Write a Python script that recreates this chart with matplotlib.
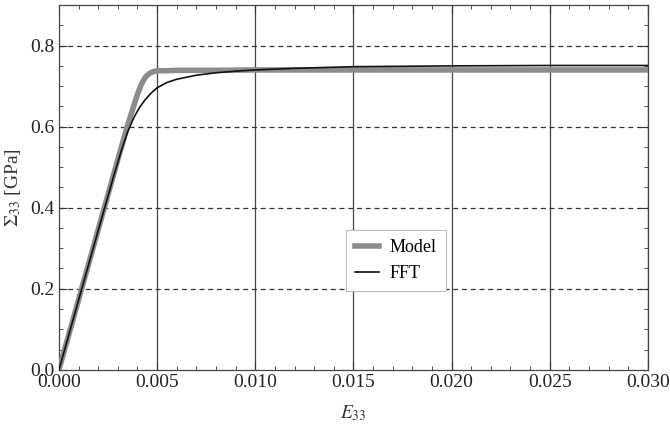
import numpy as np
import matplotlib
matplotlib.use('Agg')
import matplotlib.pyplot as plt
from matplotlib.ticker import MultipleLocator

plt.rcParams['font.family'] = ['Liberation Serif', 'DejaVu Serif']
plt.rcParams['mathtext.fontset'] = 'stix'

# model curve (strain, stress in GPa)
model_e = [0.0, 0.001, 0.002, 0.003, 0.0035, 0.0038, 0.0040, 0.0042, 0.0044,
           0.0046, 0.0048, 0.0050, 0.0055, 0.006, 0.008, 0.010, 0.015, 0.020,
           0.025, 0.030]
model_s = [0.0, 0.173, 0.346, 0.519, 0.604, 0.650, 0.680, 0.705, 0.722,
           0.731, 0.736, 0.738, 0.738, 0.739, 0.739, 0.740, 0.740, 0.740,
           0.740, 0.740]

# FFT reference curve
fft_e = [0.0, 0.001, 0.002, 0.0028, 0.0032, 0.0035, 0.0038, 0.0041, 0.0044,
         0.0047, 0.0050, 0.0055, 0.006, 0.007, 0.008, 0.009, 0.010, 0.012,
         0.015, 0.020, 0.025, 0.030]
fft_s = [0.0, 0.172, 0.344, 0.480, 0.544, 0.587, 0.621, 0.647, 0.667,
         0.683, 0.696, 0.709, 0.717, 0.727, 0.733, 0.737, 0.740, 0.744,
         0.748, 0.750, 0.751, 0.751]

fig = plt.figure(figsize=(6.7, 4.26), dpi=100)
ax = fig.add_axes([0.088, 0.132, 0.879, 0.856])

ax.plot(model_e, model_s, color='#8c8c8c', lw=4, label='Model', zorder=3)
ax.plot(fft_e, fft_s, color='#111111', lw=1.2, label='FFT', zorder=4)

ax.set_xlim(0, 0.03)
ax.set_ylim(0, 0.9)
ax.xaxis.set_major_locator(MultipleLocator(0.005))
ax.xaxis.set_minor_locator(MultipleLocator(0.001))
ax.yaxis.set_major_locator(MultipleLocator(0.2))
ax.yaxis.set_minor_locator(MultipleLocator(0.05))
ax.xaxis.set_major_formatter(plt.FormatStrFormatter('%.3f'))
ax.yaxis.set_major_formatter(plt.FormatStrFormatter('%.1f'))

ax.tick_params(which='both', direction='in', top=True, right=True,
               labelsize=14, colors='#333333', labelcolor='#222222')
ax.tick_params(which='major', length=6, width=0.8, pad=3)
ax.tick_params(which='minor', length=3, width=0.6)

for x in np.arange(0.005, 0.0301, 0.005):
    ax.axvline(x, color='#444444', lw=0.9, zorder=1)
for y in [0.2, 0.4, 0.6, 0.8]:
    ax.axhline(y, color='#333333', lw=0.9, ls=(0, (4, 3)), zorder=1)

for sp in ax.spines.values():
    sp.set_color('#444444')
    sp.set_linewidth(0.9)

ax.set_xlabel('$E_{33}$', fontsize=14, color='#333333', labelpad=9)
ax.set_ylabel('$\\Sigma_{33}$ [GPa]', fontsize=14, color='#333333', labelpad=5)

leg = ax.legend(loc='center', bbox_to_anchor=(0.572, 0.30), fontsize=13,
                fancybox=False, framealpha=1, edgecolor='#bbbbbb',
                handlelength=1.3, handletextpad=0.6, borderpad=0.5)
leg.get_frame().set_linewidth(0.8)

fig.savefig('out.png', dpi=100)
